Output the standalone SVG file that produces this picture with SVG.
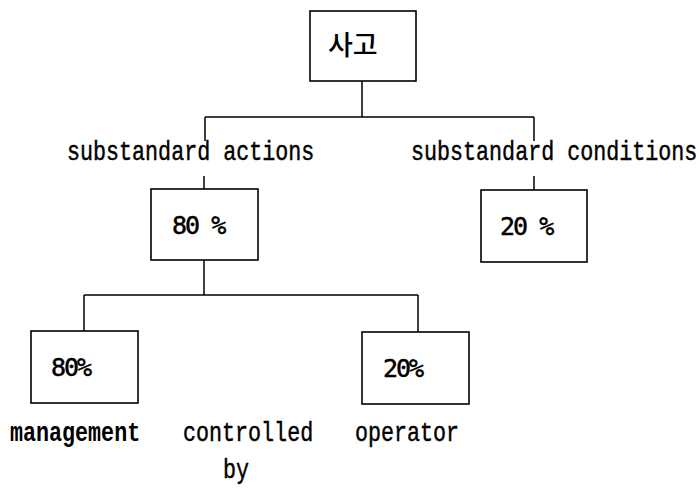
<svg xmlns="http://www.w3.org/2000/svg" width="699" height="488" viewBox="0 0 699 488">
  <style>
    .box { fill: #fff; stroke: #000; stroke-width: 1.6; }
    .wire { fill: none; stroke: #000; stroke-width: 1.5; }
    /* typewriter-style captions, stretched vertically */
    .lbl { font-family: "Liberation Mono", "DejaVu Sans Mono", monospace; font-size: 21.7px; fill: #000; stroke: #000; stroke-width: 0.35px; }
    .heavy { font-weight: bold; stroke-width: 0; }
    .pct { font-family: "DejaVu Sans Mono", "Liberation Mono", monospace; font-size: 25px; letter-spacing: -2px; fill: #000; stroke: #000; stroke-width: 0.5px; }
    .kr { font-family: "Noto Sans CJK KR", "Noto Sans", sans-serif; font-size: 27px; font-weight: 500; fill: #000; }
  </style>

  <!-- connectors -->
  <g id="connectors">
    <path class="wire" d="M362,81 V117 M205,117 H534 M205,117 V141 M534,117 V141"/>
    <path class="wire" d="M204,176 V189 M534,176 V190"/>
    <path class="wire" d="M204,260 V295 M84,295 H418 M84,295 V331 M418,295 V332"/>
  </g>

  <!-- root: accident -->
  <g id="node-accident">
    <rect class="box" x="310" y="11" width="106" height="70"/>
    <text class="kr" x="328" y="55">사고</text>
  </g>

  <!-- branch labels -->
  <g id="label-actions">
    <text class="lbl" transform="translate(67,160) scale(1,1.3)">substandard actions</text>
  </g>
  <g id="label-conditions">
    <text class="lbl" transform="translate(411,160) scale(1,1.3)">substandard conditions</text>
  </g>

  <!-- second level -->
  <g id="node-actions">
    <rect class="box" x="151" y="189" width="107" height="71"/>
    <text class="pct" x="172" y="234">80 %</text>
  </g>
  <g id="node-conditions">
    <rect class="box" x="481" y="190" width="106" height="72"/>
    <text class="pct" x="500" y="235">20 %</text>
  </g>

  <!-- third level -->
  <g id="node-management">
    <rect class="box" x="31" y="331" width="107" height="72"/>
    <text class="pct" x="51" y="376">80%</text>
  </g>
  <g id="node-operator">
    <rect class="box" x="362" y="332" width="107" height="72"/>
    <text class="pct" x="383" y="377">20%</text>
  </g>

  <!-- bottom captions -->
  <g id="captions">
    <text class="lbl heavy" transform="translate(10,441) scale(1,1.3)">management</text>
    <text class="lbl" transform="translate(183,441) scale(1,1.3)">controlled</text>
    <text class="lbl" transform="translate(223,478) scale(1,1.3)">by</text>
    <text class="lbl" transform="translate(355,441) scale(1,1.3)">operator</text>
  </g>
</svg>
